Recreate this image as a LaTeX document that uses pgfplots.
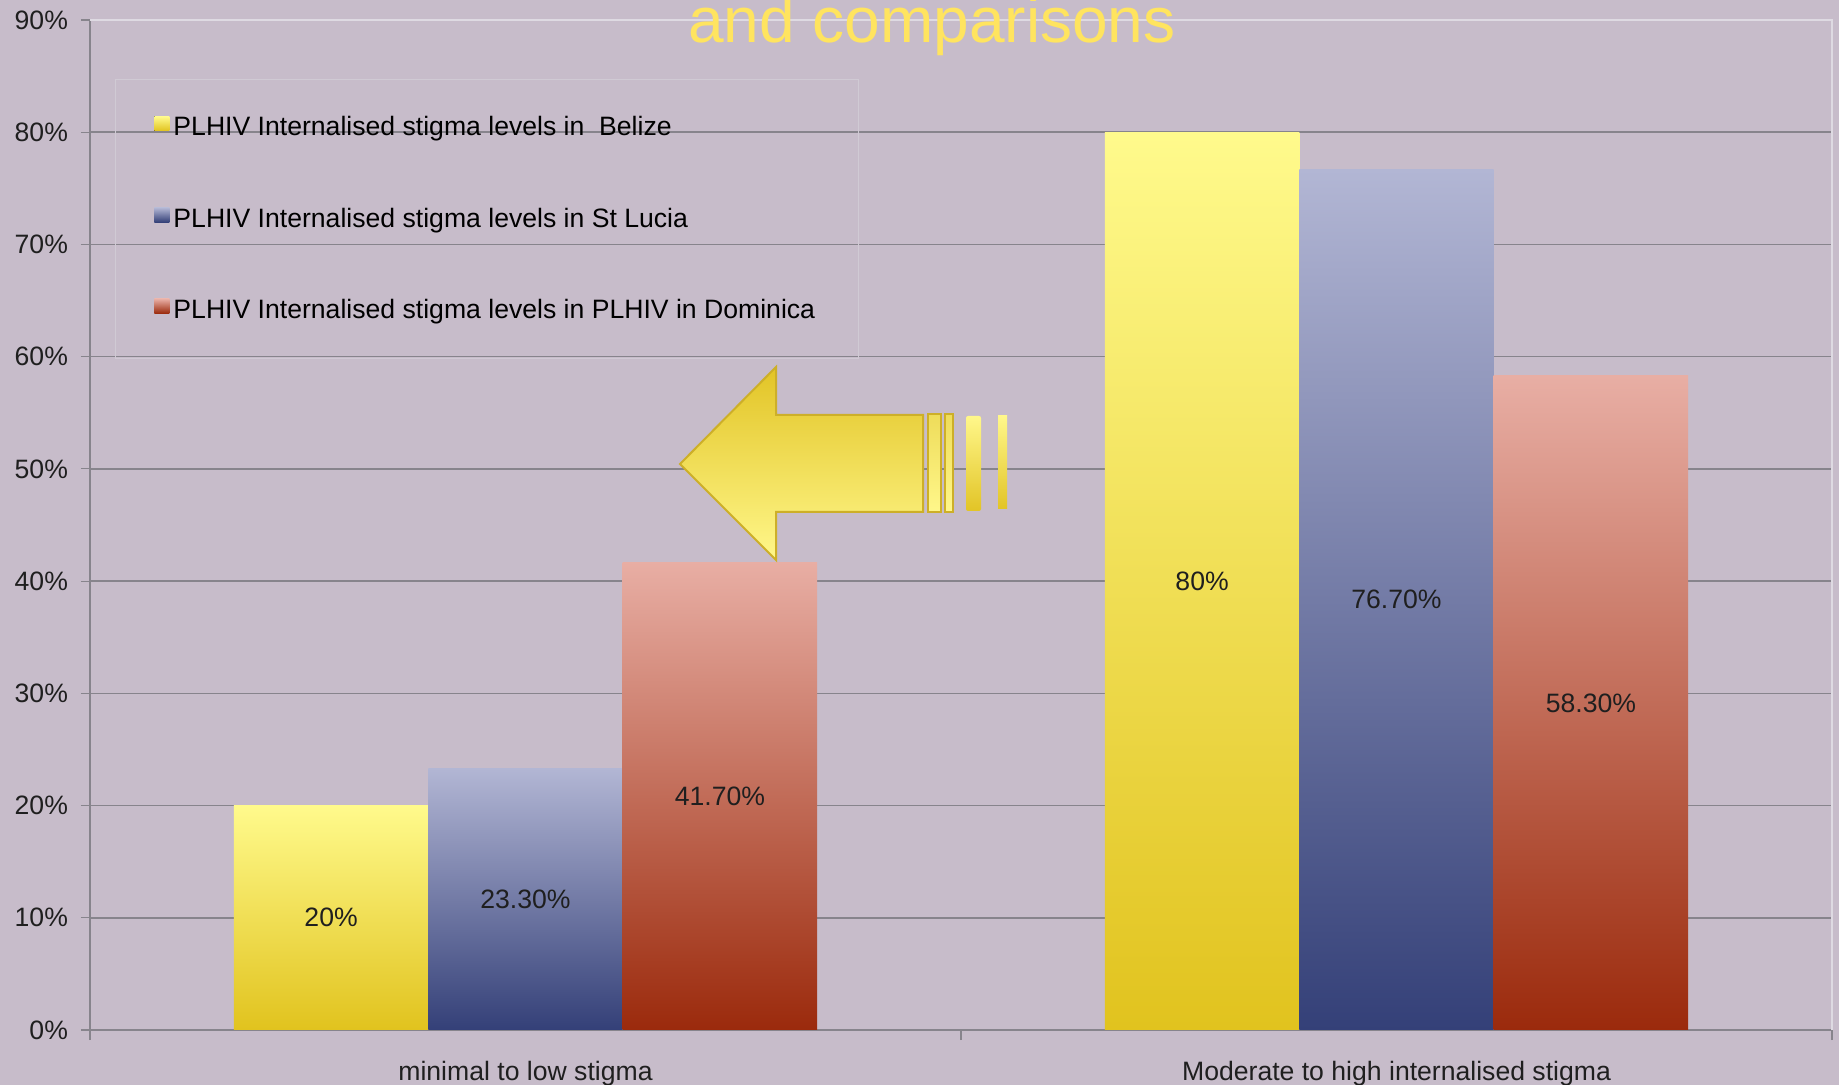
\documentclass[border=0pt]{standalone}
\usepackage{pgfplots}
\pgfplotsset{compat=1.18}
\usepackage{fontspec}
\setmainfont{Liberation Sans}

\definecolor{bgcol}{RGB}{199,188,202}
\definecolor{gridcol}{RGB}{135,132,140}
\definecolor{framecol}{RGB}{222,218,226}
\definecolor{legcol}{RGB}{208,202,212}
\definecolor{yeltop}{RGB}{255,250,140}
\definecolor{yelbot}{RGB}{225,195,30}
\definecolor{blutop}{RGB}{178,182,212}
\definecolor{blubot}{RGB}{52,64,120}
\definecolor{redtop}{RGB}{232,174,164}
\definecolor{redbot}{RGB}{155,42,12}
\definecolor{titlecol}{RGB}{255,228,95}
\definecolor{arrline}{RGB}{205,175,40}
\definecolor{arrdark}{RGB}{226,196,38}
\definecolor{arrmid}{RGB}{238,220,90}
\definecolor{arrlight}{RGB}{255,247,138}

\newcommand{\lbl}{\fontsize{13.3}{16}\selectfont}

\pgfplotsset{
  belize/.style={bar shift=-0.2232, draw=none, top color=yeltop, bottom color=yelbot},
  lucia/.style={bar shift=0, draw=none, top color=blutop, bottom color=blubot},
  dominica/.style={bar shift=0.2232, draw=none, top color=redtop, bottom color=redbot},
}

\begin{document}
\begin{tikzpicture}
% pixel frame: 1 px = 0.5pt, origin at top-left of the picture
\begin{scope}[shift={(-45pt,515pt)}, x=0.5pt, y=-0.5pt]
  \fill[bgcol] (0,0) rectangle (1839,1085);
\end{scope}

\begin{axis}[
  at={(0,0)}, anchor=south west,
  scale only axis, width=871pt, height=505pt,
  ybar, bar width=0.2232,
  xmin=-0.5, xmax=1.5, ymin=0, ymax=90,
  clip=false,
  axis lines*=left,
  x axis line style={gridcol, line width=1.3pt},
  y axis line style={gridcol, line width=0.6pt},
  ytick={0,10,...,90},
  yticklabels={0\%,10\%,20\%,30\%,40\%,50\%,60\%,70\%,80\%,90\%},
  xtick={0,1},
  xticklabels={minimal to low stigma, Moderate to high internalised stigma},
  minor xtick={-0.5,0.5,1.5},
  tick align=outside,
  major tick length=4.5pt,
  minor tick length=5pt,
  major x tick style={draw=none},
  tick style={gridcol, line width=0.6pt},
  ymajorgrids,
  major grid style={gridcol, line width=0.8pt},
  every tick label/.append style={font=\lbl, text=black!88},
  yticklabel style={xshift=-3pt},
  xticklabel style={yshift=-7.5pt},
  point meta=explicit symbolic,
  nodes near coords,
  visualization depends on=y \as \rawy,
  nodes near coords style={anchor=center, font=\lbl, text=black!88,
    shift={(axis direction cs:0,-\rawy/2)}},
  legend cell align=left,
  legend image code/.code={\fill[#1] (0pt,-1.6pt) rectangle (7.5pt,5.6pt);},
  legend style={at={(rel axis cs:0.01435,0.9416)}, anchor=north west,
    draw=legcol, line width=0.5pt, fill=none, font=\lbl,
    inner xsep=19.5pt, inner ysep=16.5pt, row sep=30.5pt},
]

% one plot per bar, so that each bar gets its own gradient
% Belize
\addplot[belize] coordinates {(0,20) [20\%]};
% St Lucia
\addplot[lucia] coordinates {(0,23.3) [23.30\%]};
% Dominica
\addplot[dominica] coordinates {(0,41.7) [41.70\%]};

\addplot[belize, forget plot] coordinates {(1,80) [80\%]};
\addplot[lucia, forget plot] coordinates {(1,76.7) [76.70\%]};
\addplot[dominica, forget plot] coordinates {(1,58.3) [58.30\%]};

\legend{PLHIV Internalised stigma levels in\ \ Belize,
        PLHIV Internalised stigma levels in St Lucia,
        PLHIV Internalised stigma levels in PLHIV in Dominica}

\draw[framecol, line width=1pt] (rel axis cs:0,1) -- (rel axis cs:1,1) -- (rel axis cs:1,0);
\end{axis}

\begin{scope}[shift={(-45pt,515pt)}, x=0.5pt, y=-0.5pt]
  % decorative arrow
  \path[draw=arrline, line width=1pt, top color=arrdark, bottom color=arrlight]
    (680,464) -- (776,367) -- (776,415) -- (923,415) -- (923,512)
    -- (776,512) -- (776,560) -- cycle;
  \path[draw=arrline, line width=1pt, top color=arrmid, bottom color=arrlight]
    (928,414) rectangle (941,512);
  \path[draw=arrline, line width=1pt, top color=arrmid, bottom color=arrlight]
    (945,414) rectangle (953,512);
  \path[rounded corners=1pt, top color=arrlight, bottom color=arrdark]
    (966,416) rectangle (981,511);
  \path[top color=arrlight, bottom color=arrdark]
    (998,416) rectangle (1007,509);
  % title, cut at the top edge as in the source slide
  \node[anchor=base, inner sep=0pt, text=titlecol, font=\fontsize{32}{38}\selectfont]
    at (932,43) {and comparisons};
\end{scope}

\pgfresetboundingbox
\begin{scope}[shift={(-45pt,515pt)}, x=0.5pt, y=-0.5pt]
  \path[use as bounding box] (0,0) rectangle (1839,1085);
\end{scope}
\end{tikzpicture}
\end{document}
